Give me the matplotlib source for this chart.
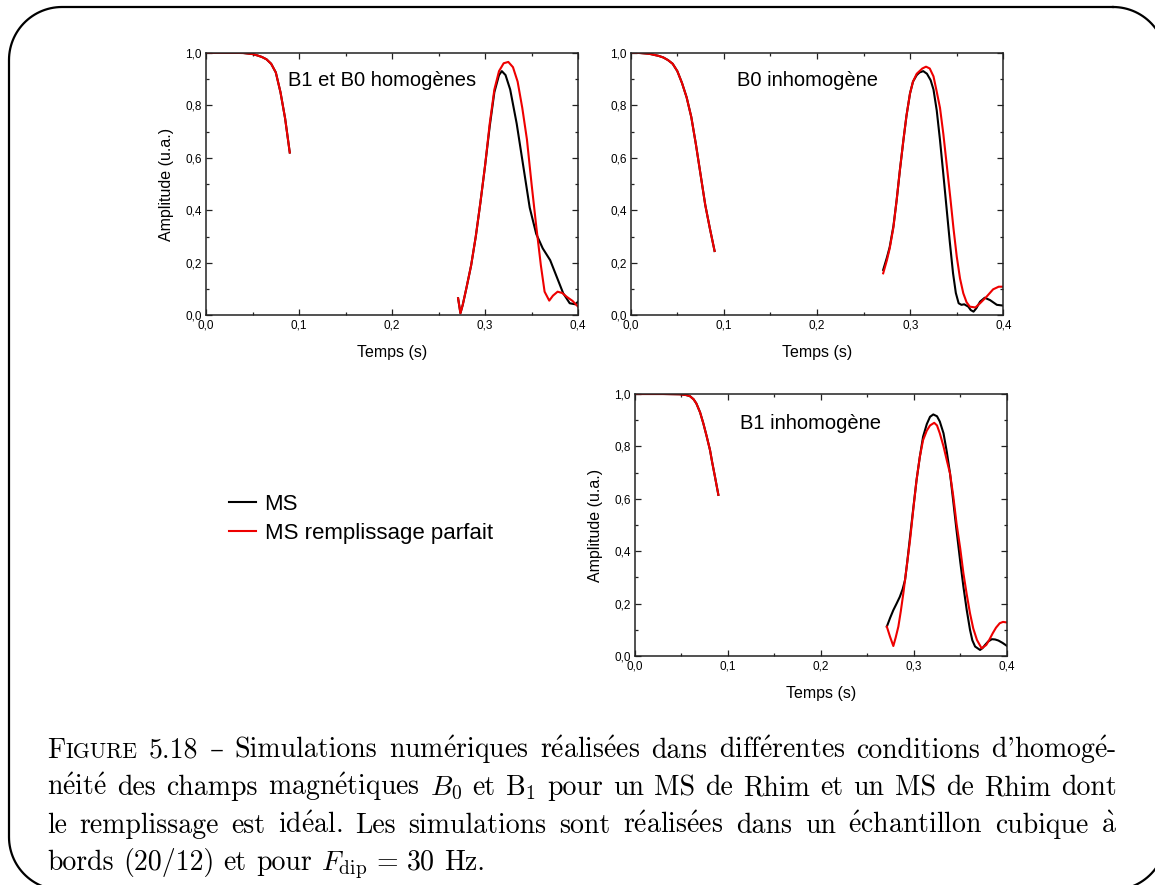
import numpy as np
import matplotlib
matplotlib.use("Agg")
import matplotlib.pyplot as plt
from matplotlib.lines import Line2D
from matplotlib.transforms import IdentityTransform
from matplotlib.ticker import MultipleLocator, FuncFormatter

# ---- panel 1 : B1 et B0 homogenes ----
p1_t_a = [0, 0.02, 0.04, 0.05, 0.055, 0.06, 0.065, 0.07, 0.075, 0.08, 0.085, 0.09]
p1_a = [1.0, 1.0, 0.999, 0.995, 0.99, 0.984, 0.975, 0.958, 0.925, 0.85, 0.75, 0.62]

p1_t_red = [0.271, 0.2735, 0.276, 0.28, 0.285, 0.29, 0.295, 0.30, 0.305, 0.31, 0.315, 0.32,
            0.325, 0.33, 0.335, 0.34, 0.345, 0.35, 0.355, 0.36, 0.364, 0.369, 0.373, 0.378,
            0.383, 0.388, 0.394, 0.4]
p1_red = [0.065, 0.008, 0.04, 0.105, 0.19, 0.3, 0.43, 0.57, 0.73, 0.86, 0.93, 0.96,
          0.965, 0.945, 0.89, 0.79, 0.67, 0.5, 0.34, 0.19, 0.09, 0.056, 0.075, 0.09,
          0.085, 0.07, 0.055, 0.033]
p1_t_blk = [0.271, 0.2735, 0.276, 0.28, 0.285, 0.29, 0.295, 0.30, 0.305, 0.31, 0.315, 0.318,
            0.322, 0.327, 0.334, 0.341, 0.348, 0.355, 0.362, 0.37, 0.377, 0.384, 0.391,
            0.397, 0.4]
p1_blk = [0.065, 0.008, 0.04, 0.105, 0.19, 0.3, 0.43, 0.57, 0.72, 0.85, 0.915, 0.93,
          0.915, 0.86, 0.73, 0.57, 0.41, 0.31, 0.255, 0.21, 0.147, 0.084, 0.046,
          0.042, 0.052]

# ---- panel 2 : B0 inhomogene ----
p2_t_a = [0, 0.01, 0.02, 0.03, 0.035, 0.04, 0.045, 0.05, 0.055, 0.06, 0.065, 0.07, 0.075,
          0.08, 0.085, 0.09]
p2_a = [1.0, 0.999, 0.996, 0.988, 0.982, 0.972, 0.958, 0.93, 0.885, 0.83, 0.755, 0.65,
        0.535, 0.42, 0.33, 0.245]

p2_t_blk = [0.271, 0.275, 0.278, 0.282, 0.2855, 0.289, 0.2927, 0.296, 0.2998, 0.303, 0.307,
            0.31, 0.314, 0.318, 0.322, 0.325, 0.3285, 0.332, 0.3355, 0.339, 0.3425, 0.346,
            0.349, 0.352, 0.355, 0.358, 0.3624, 0.365, 0.368, 0.371, 0.375, 0.38, 0.3857,
            0.393, 0.4]
p2_blk = [0.173, 0.22, 0.26, 0.34, 0.44, 0.555, 0.667, 0.76, 0.845, 0.89, 0.915,
          0.925, 0.93, 0.92, 0.895, 0.86, 0.78, 0.667, 0.54, 0.41, 0.28, 0.16,
          0.085, 0.046, 0.04, 0.042, 0.033, 0.02, 0.014, 0.027, 0.052, 0.067, 0.058,
          0.04, 0.037]
p2_t_red = [0.271, 0.275, 0.278, 0.282, 0.2855, 0.289, 0.2927, 0.296, 0.2998, 0.303, 0.307,
            0.31, 0.313, 0.317, 0.321, 0.325, 0.328, 0.332, 0.3356, 0.339, 0.343, 0.3465,
            0.35, 0.3535, 0.357, 0.3605, 0.364, 0.37, 0.375, 0.382, 0.389, 0.395, 0.4]
p2_red = [0.16, 0.21, 0.255, 0.335, 0.44, 0.555, 0.667, 0.76, 0.845, 0.89, 0.92,
          0.93, 0.94, 0.947, 0.94, 0.91, 0.86, 0.79, 0.69, 0.58, 0.45, 0.33,
          0.223, 0.14, 0.084, 0.05, 0.033, 0.03, 0.046, 0.071, 0.099, 0.109, 0.109]

# ---- panel 3 : B1 inhomogene ----
p3_t_a = [0, 0.03, 0.048, 0.055, 0.059, 0.063, 0.066, 0.07, 0.0735, 0.077, 0.0807, 0.083,
          0.086, 0.0897]
p3_a = [1.0, 1.0, 0.999, 0.996, 0.992, 0.98, 0.964, 0.93, 0.888, 0.84, 0.786, 0.74,
        0.685, 0.615]

p3_t_blk = [0.271, 0.2745, 0.278, 0.2815, 0.285, 0.288, 0.2906, 0.293, 0.296, 0.2995, 0.303,
            0.3065, 0.31, 0.314, 0.3175, 0.321, 0.325, 0.328, 0.332, 0.3355, 0.339, 0.3425,
            0.346, 0.35, 0.3534, 0.357, 0.3605, 0.363, 0.366, 0.3713, 0.374, 0.3767, 0.38,
            0.384, 0.3875, 0.391, 0.3955, 0.4]
p3_blk = [0.112, 0.145, 0.175, 0.2, 0.226, 0.255, 0.29, 0.36, 0.455, 0.565, 0.672,
          0.76, 0.837, 0.885, 0.913, 0.922, 0.915, 0.895, 0.85, 0.78, 0.697, 0.59,
          0.48, 0.36, 0.265, 0.175, 0.1, 0.06, 0.036, 0.023, 0.03, 0.042, 0.055,
          0.064, 0.063, 0.059, 0.05, 0.039]
p3_t_red = [0.271, 0.2744, 0.278, 0.2805, 0.2834, 0.286, 0.2888, 0.292, 0.296, 0.2995, 0.303,
            0.3065, 0.31, 0.314, 0.3175, 0.322, 0.325, 0.328, 0.332, 0.336, 0.339, 0.3425,
            0.346, 0.35, 0.3534, 0.357, 0.3605, 0.364, 0.368, 0.373, 0.378, 0.381, 0.385,
            0.3885, 0.3925, 0.396, 0.4]
p3_red = [0.112, 0.074, 0.038, 0.07, 0.112, 0.17, 0.24, 0.33, 0.443, 0.56, 0.672,
          0.76, 0.824, 0.86, 0.88, 0.89, 0.88, 0.85, 0.8, 0.74, 0.697, 0.61,
          0.506, 0.41, 0.316, 0.235, 0.163, 0.105, 0.061, 0.029, 0.042, 0.06, 0.087,
          0.108, 0.125, 0.13, 0.128]

titles = ["B1 et B0 homogènes", "B0 inhomogène", "B1 inhomogène"]
legend_labels = ["MS", "MS remplissage parfait"]

caption_lines = [
    "FIGURE 5.18 – Simulations numériques réalisées dans différentes conditions d'homogé-",
    "néité des champs magnétiques $B_0$ et B$_1$ pour un MS de Rhim et un MS de Rhim dont",
    "le remplissage est idéal. Les simulations sont réalisées dans un échantillon cubique à",
    "bords (20/12) et pour $F_\\mathrm{dip}$ = 30 Hz.",
]

plt.rcParams['font.family'] = ['Liberation Sans', 'DejaVu Sans']
plt.rcParams['mathtext.fontset'] = 'cm'

W, H = 1155, 885
fig = plt.figure(figsize=(W / 100, H / 100), dpi=100)

comma = FuncFormatter(lambda v, p: f"{v:.1f}".replace('.', ','))


def style(ax):
    ax.set_xlim(0, 0.4)
    ax.set_ylim(0, 1.0)
    ax.xaxis.set_major_locator(MultipleLocator(0.1))
    ax.xaxis.set_minor_locator(MultipleLocator(0.05))
    ax.yaxis.set_major_locator(MultipleLocator(0.2))
    ax.yaxis.set_minor_locator(MultipleLocator(0.1))
    ax.xaxis.set_major_formatter(comma)
    ax.yaxis.set_major_formatter(comma)
    ax.tick_params(which='both', direction='in', top=True, right=True,
                   labelsize=8.5, width=0.9, color='#222222', pad=3)
    ax.tick_params(which='major', length=4)
    ax.tick_params(which='minor', length=2.5)
    for s in ax.spines.values():
        s.set_linewidth(1.1)
        s.set_color('#222222')
    ax.set_xlabel("Temps (s)", fontsize=11.5, labelpad=10)


panels = [
    ([0.1784, 0.6437, 0.3221, 0.2967], p1_t_a, p1_a, p1_t_blk, p1_blk, p1_t_red, p1_red,
     (0.088, 0.896), True),
    ([0.5461, 0.6437, 0.3226, 0.2967], p2_t_a, p2_a, p2_t_blk, p2_blk, p2_t_red, p2_red,
     (0.114, 0.896), False),
    ([0.5498, 0.2588, 0.3218, 0.2960], p3_t_a, p3_a, p3_t_blk, p3_blk, p3_t_red, p3_red,
     (0.113, 0.889), True),
]

for i, (rect, ta, a, tb, b, tr, r, tpos, ylab) in enumerate(panels):
    ax = fig.add_axes(rect)
    style(ax)
    ax.plot(ta, a, color='black', lw=1.5)
    ax.plot(tb, b, color='black', lw=1.5)
    ax.plot(ta, a, color='#ee0000', lw=1.5)
    ax.plot(tr, r, color='#ee0000', lw=1.5)
    ax.text(tpos[0], tpos[1], titles[i], fontsize=14.5, va='center', ha='left')
    if ylab:
        ax.set_ylabel("Amplitude (u.a.)", fontsize=11.5, labelpad=8)

handles = [Line2D([], [], color='black', lw=1.5), Line2D([], [], color='#ee0000', lw=1.5)]
fig.legend(handles, legend_labels, loc='center left', bbox_to_anchor=(229 / W, 1 - 518.5 / H),
           frameon=False, fontsize=16, handlelength=1.2, handletextpad=0.4,
           labelspacing=0.36, borderpad=0, borderaxespad=0)

# rounded frame in pixel coordinates (image y measured from the top)
fl, fr, ft, fb, rad = 9, 1166, 7, 890, 53
corners = [(fr - rad, ft + rad, 90, 0), (fr - rad, fb - rad, 0, -90),
           (fl + rad, fb - rad, -90, -180), (fl + rad, ft + rad, 180, 90)]
fx, fy = [], []
for cx, cy, a0, a1 in corners:
    ang = np.radians(np.linspace(a0, a1, 30))
    fx.extend(cx + rad * np.cos(ang))
    fy.extend(cy - rad * np.sin(ang))
fx.append(fx[0])
fy.append(fy[0])
fig.add_artist(Line2D(np.array(fx), H - np.array(fy), transform=IdentityTransform(),
                      color='black', lw=1.6, solid_joinstyle='round'))

# caption, justified like the LaTeX source
cap_fam = ['cmr10', 'DejaVu Serif']
x_left, x_right = 47, 1117
baselines = [758, 795, 833, 870]
renderer = fig.canvas.get_renderer()
ACC = {'é': r'$\mathrm{\acute{e}}$', 'à': r'$\mathrm{\grave{a}}$'}


def tex_word(w):
    return "".join(ACC.get(c, c) for c in w)


def make_word(word, fs):
    if word == "FIGURE":
        parts = [("F", fs), ("IGURE", fs * 0.78)]
    else:
        parts = [(tex_word(word), fs)]
    arts = [fig.text(0, 0, s, fontsize=fs_, family=cap_fam, va='baseline', ha='left')
            for s, fs_ in parts]
    widths = [t.get_window_extent(renderer).width for t in arts]
    return arts, widths


def space_width(fs):
    t1 = fig.text(0, 0, "a a", fontsize=fs, family=cap_fam)
    t2 = fig.text(0, 0, "aa", fontsize=fs, family=cap_fam)
    w = t1.get_window_extent(renderer).width - t2.get_window_extent(renderer).width
    t1.remove()
    t2.remove()
    return w


# pick the size so the first line fills the text width with ordinary spaces
fs0 = 16
probe = [make_word(w, fs0) for w in caption_lines[0].split(" ")]
natural = sum(sum(ws) for _, ws in probe) + space_width(fs0) * (len(probe) - 1)
for arts, _ in probe:
    for t in arts:
        t.remove()
cap_fs = fs0 * (x_right - x_left) / natural * 0.985
space_w = space_width(cap_fs)

for li, line in enumerate(caption_lines):
    words = [make_word(w, cap_fs) for w in line.split(" ")]
    total = sum(sum(ws) for _, ws in words)
    if li < len(caption_lines) - 1:
        gap = (x_right - x_left - total) / (len(words) - 1)
    else:
        gap = space_w
    x = x_left
    yb = 1 - baselines[li] / H
    for arts, ws in words:
        for t, w in zip(arts, ws):
            t.set_position((x / W, yb))
            x += w
        x += gap

fig.savefig("out.png", dpi=100)
